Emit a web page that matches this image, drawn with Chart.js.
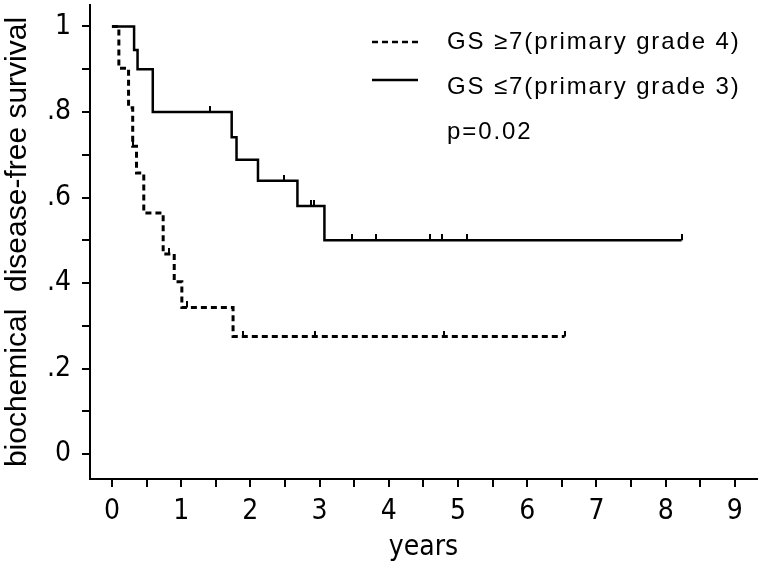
<!DOCTYPE html>
<html>
<head>
<meta charset="utf-8">
<script src="https://cdn.jsdelivr.net/npm/chart.js@4"></script>
<style>
  body { margin: 0; background: #fff; }
  #km { display: block; }
</style>
</head>
<body>
<canvas id="km" width="762" height="571"></canvas>
<script>
// Kaplan-Meier curves
const gs4Times = [0, 0.10, 0.24, 0.30, 0.355, 0.46, 0.74, 0.90, 1.01, 1.75, 6.54];
const gs4Surv = [1, 0.902, 0.81, 0.72, 0.657, 0.564, 0.468, 0.403, 0.343, 0.275, 0.275];
const gs4CensorTimes = [0.31, 0.83, 1.08, 1.89, 2.94, 4.80, 6.54];
const gs4CensorSurv = [0.72, 0.468, 0.343, 0.275, 0.275, 0.275, 0.275];

const gs3Times = [0, 0.32, 0.37, 0.59, 1.73, 1.80, 2.11, 2.68, 3.07, 8.23];
const gs3Surv = [1, 0.945, 0.90, 0.80, 0.741, 0.688, 0.639, 0.58, 0.50, 0.50];
const gs3CensorTimes = [1.42, 2.48, 2.88, 2.92, 3.47, 3.82, 4.60, 4.77, 5.13, 8.23];
const gs3CensorSurv = [0.80, 0.639, 0.58, 0.58, 0.50, 0.50, 0.50, 0.50, 0.50, 0.50];

const seriesNames = ['GS \u22657(primary grade 4)', 'GS \u22647(primary grade 3)'];
const pValueText = 'p=0.02';

const xTickValues = [0, 0.5, 1, 1.5, 2, 2.5, 3, 3.5, 4, 4.5, 5, 5.5, 6, 6.5, 7, 7.5, 8, 8.5, 9];
const xTickLabels = ['0', '1', '2', '3', '4', '5', '6', '7', '8', '9'];
const yTickValues = [0, 0.1, 0.2, 0.3, 0.4, 0.5, 0.6, 0.7, 0.8, 0.9, 1];
const yTickLabels = ['0', '.2', '.4', '.6', '.8', '1'];

const narrowFont = "'Liberation Sans Narrow', 'DejaVu Sans Condensed', 'Liberation Sans', sans-serif";
const plainFont = "'Liberation Sans', Arial, sans-serif";

function toPoints(xs, ys) {
    return xs.map((x, i) => ({ x: x, y: ys[i] }));
}

// small upward tick used as censor mark
function censorMark() {
    const c = document.createElement('canvas');
    c.width = 2;
    c.height = 12;
    const g = c.getContext('2d');
    g.fillStyle = '#000';
    g.fillRect(0, 0, 2, 6);
    return c;
}
const tickMark = censorMark();

// legend drawn inside the plot, top right
const legendPlugin = {
    id: 'kmLegend',
    afterDraw(chart) {
        const ctx = chart.ctx;
        ctx.save();
        ctx.strokeStyle = '#000';
        ctx.lineWidth = 2.5;
        ctx.setLineDash([6, 4]);
        ctx.beginPath();
        ctx.moveTo(372, 42);
        ctx.lineTo(418, 42);
        ctx.stroke();
        ctx.setLineDash([]);
        ctx.beginPath();
        ctx.moveTo(372, 80);
        ctx.lineTo(418, 80);
        ctx.stroke();

        ctx.fillStyle = '#000';
        ctx.font = '24px ' + plainFont;
        ctx.letterSpacing = '1.9px';
        ctx.textAlign = 'left';
        ctx.textBaseline = 'alphabetic';
        ctx.fillText(seriesNames[0], 447, 49);
        ctx.fillText(seriesNames[1], 447, 94);
        ctx.fillText(pValueText, 447, 139);
        ctx.restore();
    }
};

new Chart(document.getElementById('km'), {
    type: 'scatter',
    data: {
        datasets: [{
            label: seriesNames[0],
            data: toPoints(gs4Times, gs4Surv),
            showLine: true,
            stepped: 'before',
            borderColor: '#000',
            borderWidth: 3,
            borderDash: [6, 4],
            pointRadius: 0
        }, {
            label: seriesNames[1],
            data: toPoints(gs3Times, gs3Surv),
            showLine: true,
            stepped: 'before',
            borderColor: '#000',
            borderWidth: 2.5,
            pointRadius: 0
        }, {
            label: 'censored 1',
            data: toPoints(gs4CensorTimes, gs4CensorSurv),
            pointStyle: tickMark,
            pointRadius: 4
        }, {
            label: 'censored 2',
            data: toPoints(gs3CensorTimes, gs3CensorSurv),
            pointStyle: tickMark,
            pointRadius: 4
        }]
    },
    options: {
        responsive: false,
        animation: false,
        layout: { padding: { top: 3, right: 4, left: 0, bottom: 0 } },
        plugins: {
            legend: { display: false },
            tooltip: { enabled: false }
        },
        scales: {
            x: {
                type: 'linear',
                min: -0.317,
                max: 9.32,
                afterFit: function(scale) {
                    scale.height = 92;
                    scale.paddingLeft = 0;
                    scale.paddingRight = 0;
                },
                afterBuildTicks: function(scale) {
                    scale.ticks = xTickValues.map(v => ({ value: v }));
                },
                border: { color: '#000', width: 2 },
                grid: { drawOnChartArea: false, drawTicks: true, tickLength: 8, color: '#000', lineWidth: 2 },
                ticks: {
                    autoSkip: false,
                    maxRotation: 0,
                    padding: 8,
                    color: '#000',
                    font: { size: 28, family: narrowFont },
                    callback: function(value, index) {
                        return index % 2 === 0 ? xTickLabels[index / 2] : '';
                    }
                },
                title: {
                    display: true,
                    text: 'years',
                    color: '#000',
                    font: { size: 28, family: narrowFont },
                    padding: { top: 0, bottom: 6 }
                }
            },
            y: {
                type: 'linear',
                min: -0.058,
                max: 1.05,
                afterFit: function(scale) {
                    scale.width = 90;
                    scale.paddingTop = 0;
                    scale.paddingBottom = 0;
                },
                afterBuildTicks: function(scale) {
                    scale.ticks = yTickValues.map(v => ({ value: v }));
                },
                border: { color: '#000', width: 2 },
                grid: { drawOnChartArea: false, drawTicks: true, tickLength: 8, color: '#000', lineWidth: 2 },
                ticks: {
                    autoSkip: false,
                    padding: 11,
                    color: '#000',
                    font: { size: 28, family: narrowFont },
                    callback: function(value, index) {
                        return index % 2 === 0 ? yTickLabels[index / 2] : '';
                    }
                },
                title: {
                    display: true,
                    text: 'biochemical  disease-free survival',
                    color: '#000',
                    font: { size: 30, family: plainFont },
                    padding: { top: 0, bottom: 0 }
                }
            }
        }
    },
    plugins: [legendPlugin]
});
</script>
</body>
</html>
